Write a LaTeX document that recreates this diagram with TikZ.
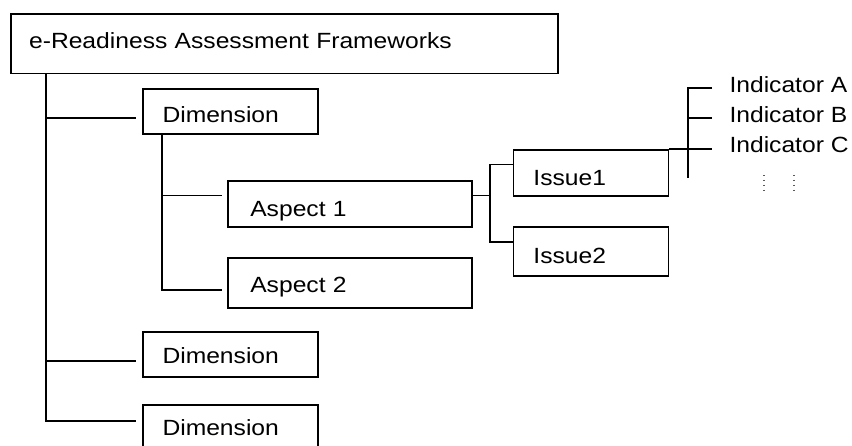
\documentclass[tikz,border=0pt]{standalone}
\usepackage{fontspec}
\setmainfont[FakeStretch=1.12]{Liberation Sans}
\begin{document}
\begin{tikzpicture}[x=1pt,y=-1pt,
  box/.style={draw=black, line width=1.6pt, anchor=north west, align=left,
    text depth=0pt, font=\fontsize{22}{26}\selectfont, text=black},
  dimbox/.style={box, minimum width=175pt, minimum height=45pt, inner xsep=19.7pt, text width=135.6pt},
  aspbox/.style={box, minimum width=244pt, inner xsep=22.5pt, text width=199pt},
  issbox/.style={box, minimum width=155pt, inner xsep=20pt, text width=115pt},
  ind/.style={anchor=base west, inner sep=0pt, font=\fontsize{22}{26}\selectfont, text=black},
  conn/.style={line width=1.6pt, black},
  dotcol/.style={line width=1.5pt, black!65, dash pattern=on 1.5pt off 3.5pt}]
\clip (0,0) rectangle (852,446);
\fill[white] (0,0) rectangle (852,446);

% boxes
\node[box, minimum width=547pt, minimum height=59.4pt, inner xsep=18.3pt, text width=510.4pt, text height=8.6pt] (top) at (10,13.3) {e-Readiness Assessment Frameworks};
\node[dimbox, text height=22.4pt] (d1) at (142,88) {Dimension};
\node[dimbox, text height=17.6pt] (d2) at (142,331) {Dimension};
\node[dimbox, text height=17pt] (d3) at (142,404) {Dimension};
\node[aspbox, minimum height=46.4pt, text height=24.4pt] (a1) at (227,180) {Aspect 1};
\node[aspbox, minimum height=49.9pt, text height=19pt] (a2) at (227,257.4) {Aspect 2};
\node[issbox, minimum height=46.4pt, text height=25.6pt] (i1) at (512.6,149) {Issue1};
\node[issbox, minimum height=48.9pt, text height=23.4pt] (i2) at (512.6,226.4) {Issue2};

% indicators
\node[ind] (inA) at (729.3,92.3) {Indicator A};
\node[ind] (inB) at (729.3,122.3) {Indicator B};
\node[ind] (inC) at (729.3,152.3) {Indicator C};

% trunk to dimensions
\coordinate (trunk) at (46,0);
\coordinate (d1in) at (136,118);
\coordinate (d2in) at (136,361);
\coordinate (d3in) at (136,421);
\draw[conn] (top.south -| trunk) -- (trunk |- d3in) -- (d3in);
\draw[conn] (trunk |- d1in) -- (d1in);
\draw[conn] (trunk |- d2in) -- (d2in);

% dimension to aspects
\coordinate (stem) at (162,0);
\coordinate (a1in) at (221.6,195.4);
\coordinate (a2in) at (221.6,290);
\draw[conn] (d1.south -| stem) -- (stem |- a2in) -- (a2in);
\draw[conn] (stem |- a1in) -- (a1in);

% aspect 1 to issues
\coordinate (fork) at (490,0);
\coordinate (i1in) at (0,164.4);
\coordinate (i2in) at (0,242);
\draw[conn] (a1.east |- a1in) -- (fork |- a1in);
\draw[conn] (i1.west |- i1in) -| (fork |- i2in) -- (i2.west |- i2in);

% issue 1 to indicators
\coordinate (ibar) at (688,0);
\coordinate (itip) at (712,0);
\coordinate (la) at (712,88);
\coordinate (lb) at (712,118);
\coordinate (ibot) at (688,178);
\draw[conn] (i1.north east) -- (itip |- i1.north east);
\draw[conn] (la) -| (ibot);
\draw[conn] (lb) -- (ibar |- lb);

% continuation dots
\coordinate (dotA) at (764,175);
\coordinate (dotB) at (794,175);
\draw[dotcol] (dotA) -- ++(0,18);
\draw[dotcol] (dotB) -- ++(0,18);
\end{tikzpicture}
\end{document}
